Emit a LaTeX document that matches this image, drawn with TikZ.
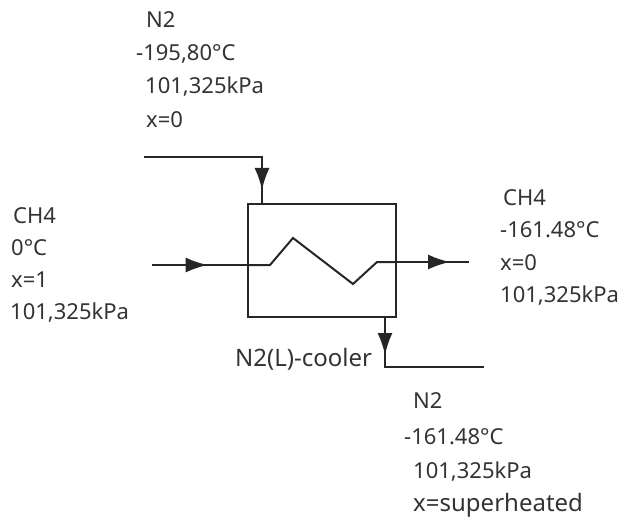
\documentclass[tikz,border=0pt]{standalone}
\usepackage{fontspec}
\setmainfont{Noto Sans}
\usetikzlibrary{arrows.meta}
\usetikzlibrary{decorations.markings}
\tikzset{>=latex}
\tikzset{
	stream/.style={line width=2pt,black!85},
	tipat/.style={postaction={decorate,decoration={markings,mark=at position #1 with {\arrow{Latex[length=22pt,width=15pt]}}}}},
	txt/.style={anchor=base west,inner sep=0pt,font=\fontsize{22}{26}\selectfont,text=black!80},
	txtwide/.style={txt,font=\fontsize{24}{28}\selectfont},
}

\begin{document}
\begin{tikzpicture}[x=1pt,y=-1pt]
			\useasboundingbox (0,0) rectangle (620,519);
			\node[draw,line width=1.7pt,black!85,minimum width=148pt,minimum height=113pt,inner sep=0pt] at (322,260.5) (cooler) {};
			\foreach \name/\x/\y/\label in {
				na/146/28/N2, nb/136/60/{-195,80°C}, nc/145/93/{101,325kPa}, nd/146/127/x=0,
				ca/13/223/CH4, cb/11/255/0°C, cc/11/287/x=1, cd/10/319/{101,325kPa},
				oa/503/205/CH4, ob/500/237/-161.48°C, oc/500/270/x=0, od/500/302/{101,325kPa},
				ua/413/408/N2, ub/404/444/-161.48°C, uc/413/478/{101,325kPa}}
				{
					\node[txt] at (\x,\y) (\name) {\label};
				}
			\node[txtwide] at (413,511) (ud) {x=superheated};
			\node[txtwide] at (235,366) (tag) {N2(L)-cooler};
			\coordinate (n2in) at (144,157);
			\coordinate (n2top) at (262,204);
			\coordinate (n2bot) at (385,317);
			\coordinate (n2out) at (484,367);
			\coordinate (ch4in) at (152,265);
			\coordinate (coila) at (248,265);
			\coordinate (coilb) at (270,265);
			\coordinate (coilc) at (293,238);
			\coordinate (coild) at (353,284);
			\coordinate (coile) at (377,262);
			\coordinate (coilf) at (396,262);
			\coordinate (ch4out) at (469,262);
%-----Streams-----
			\draw[stream,tipat=0.915] (n2in) -| (n2top);
			\draw[stream,tipat=0.58] (ch4in) -- (coila);
			\draw[stream] (coila) -- (coilb) -- (coilc) -- (coild) -- (coile) -- (coilf);
			\draw[stream,tipat=0.74] (coilf) -- (ch4out);
			\draw[stream,tipat=0.255] (n2bot) |- (n2out);
		\end{tikzpicture}
\end{document}
